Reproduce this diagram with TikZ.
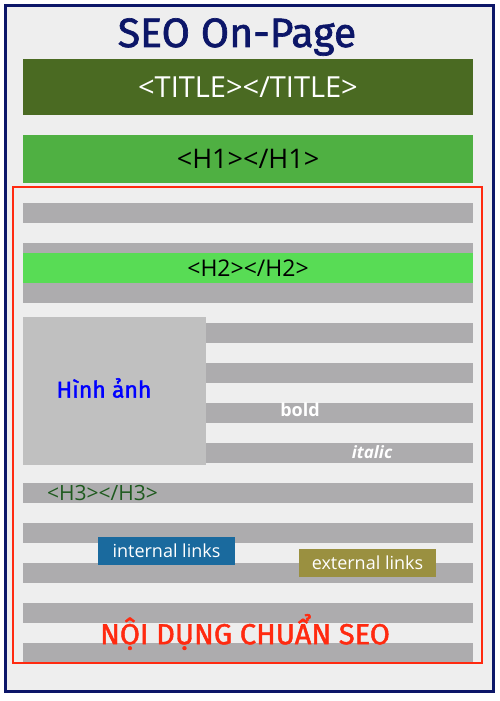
\documentclass[tikz,border=0pt]{standalone}
\usepackage{fontspec}
\setmainfont{Open Sans}
\newfontfamily\headfont{Fira Sans}[FakeBold=1.6]
\usetikzlibrary{positioning}
\definecolor{navyframe}{HTML}{0C1668}
\definecolor{pagebg}{HTML}{EEEEEE}
\definecolor{titlegreen}{HTML}{4A6A22}
\definecolor{honegreen}{HTML}{4FB042}
\definecolor{htwogreen}{HTML}{58DC55}
\definecolor{hthreegreen}{HTML}{1E5A1E}
\definecolor{linegray}{HTML}{ADACAE}
\definecolor{imggray}{HTML}{C0C0C0}
\definecolor{seored}{HTML}{FF2A10}
\definecolor{intblue}{HTML}{1A6A9E}
\definecolor{extolive}{HTML}{9A9040}
\tikzset{blk/.style={inner sep=0pt, outer sep=0pt}}
\tikzset{gline/.style={blk, fill=linegray, minimum height=20pt, anchor=north west}}
\tikzset{tagbar/.style={blk, minimum width=450pt}}
\tikzset{linkbox/.style={blk, text=white, minimum width=137pt, minimum height=28pt, font=\fontsize{18}{18}\selectfont}}

\begin{document}
\begin{tikzpicture}[x=1pt,y=-1pt]
\useasboundingbox (0,0) rectangle (500,701);
\fill[white] (0,0) rectangle (500,701);

\node[blk, draw=navyframe, line width=3pt, fill=pagebg, minimum width=488pt, minimum height=685pt] (page) at (249,348.5) {};

\node[anchor=base, text=navyframe, font=\headfont\fontsize{41}{41}\selectfont] (seo) at (237,47) {SEO On-Page};

\node[tagbar, fill=titlegreen, minimum height=56pt, text=white, font=\fontsize{29}{29}\selectfont] (title) at (248,87) {<TITLE></TITLE>};
\node[tagbar, fill=honegreen, minimum height=48pt, font=\fontsize{27}{27}\selectfont] (hone) at (248,159) {<H1></H1>};

% content lines
\foreach \y [count=\i] in {203,283,483,523,563,603,643}
  \node[gline, minimum width=450pt] (line\i) at (23,\y) {};
\foreach \y [count=\i] in {323,363,403,443}
  \node[gline, minimum width=267pt] (rline\i) at (206,\y) {};

\node[gline, minimum width=450pt, minimum height=60pt] (htwoline) at (23,243) {};
\node[tagbar, fill=htwogreen, minimum height=30pt, font=\fontsize{23}{23}\selectfont] (htwo) at (248,268) {<H2></H2>};

\node[blk, fill=imggray, minimum width=183pt, minimum height=148pt, anchor=north west] (img) at (23,317) {};
\node[text=blue, font=\headfont\fontsize{23}{23}\selectfont] (imgtext) at (104,388) {Hình ảnh};

\node[text=white, font=\bfseries\fontsize{18}{18}\selectfont] (bold) at (300,410) {bold};
\node[text=white, font=\bfseries\itshape\fontsize{17}{17}\selectfont] (italic) at (372,452) {italic};

\node[anchor=west, inner sep=0pt, text=hthreegreen, font=\fontsize{21}{21}\selectfont] (hthree) at (47,493) {<H3></H3>};

\node[linkbox, fill=intblue] (intlinks) at (166.5,551) {internal links};
\node[linkbox, fill=extolive] (extlinks) at (367.5,563) {external links};

\node[blk, draw=seored, line width=2.8pt, minimum width=469pt, minimum height=476pt] (content) at (247.5,425) {};
\node[text=seored, font=\headfont\fontsize{29}{29}\selectfont] (seotext) at (245,632) {NỘI DỤNG CHUẨN SEO};
\end{tikzpicture}
\end{document}
